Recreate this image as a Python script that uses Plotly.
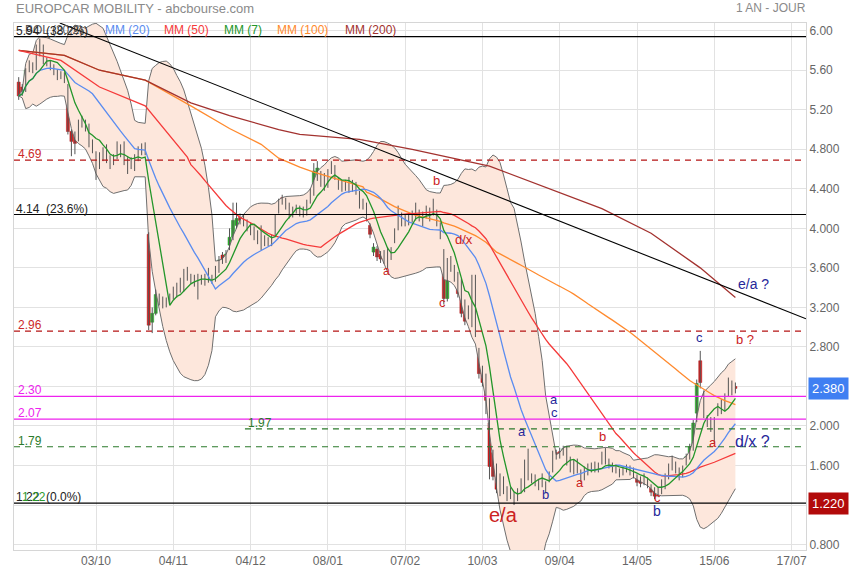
import plotly.graph_objects as go
import pandas as pd

title_text = "EUROPCAR MOBILITY - abcbourse.com"
period_text = "1 AN - JOUR"
date_labels = ["03/10", "04/11", "04/12", "08/01", "07/02", "10/03", "09/04", "14/05", "15/06", "17/07"]
date_pos = [22, 44, 66, 88, 110, 132, 154, 176, 198, 220]
y_ticks = [0.8, 1.2, 1.6, 2.0, 2.4, 2.8, 3.2, 3.6, 4.0, 4.4, 4.8, 5.2, 5.6, 6.0]
y_labels = ["0.800", "1.200", "1.600", "2.000", "2.400", "2.800", "3.200", "3.600", "4.000", "4.400", "4.800", "5.20", "5.60", "6.00"]

opens = [
    5.48, 5.43, 5.40, 5.60, 5.66, 5.61, 5.88, 5.84, 5.70, 5.68,
    5.64, 5.58, 5.54, 5.56, 5.44, 4.98, 4.96, 4.90, 5.05, 5.08,
    5.04, 4.88, 4.76, 4.64, 4.80, 4.70, 4.71, 4.68, 4.74, 4.82,
    4.86, 4.70, 4.68, 4.62, 4.70, 4.82, 4.77, 3.94, 3.05, 3.14,
    3.30, 3.28, 3.24, 3.26, 3.31, 3.33, 3.38, 3.39, 3.58, 3.51,
    3.50, 3.47, 3.50, 3.51, 3.56, 3.50, 3.48, 3.58, 3.73, 3.68,
    3.83, 3.91, 4.03, 4.11, 4.12, 4.06, 3.96, 3.99, 3.96, 4.01,
    3.86, 3.88, 3.91, 3.94, 4.18, 4.31, 4.28, 4.23, 4.14, 4.18,
    4.20, 4.19, 4.15, 4.28, 4.36, 4.51, 4.54, 4.53, 4.44, 4.64,
    4.61, 4.48, 4.45, 4.42, 4.49, 4.46, 4.38, 4.36, 4.22, 4.23,
    4.03, 3.76, 3.79, 3.74, 3.76, 3.79, 3.71, 3.88, 4.01, 4.13,
    4.11, 4.06, 4.09, 4.11, 4.16, 4.14, 4.13, 4.18, 4.16, 4.16,
    4.04, 3.77, 3.29, 3.68, 3.60, 3.54, 3.46, 3.26, 3.11, 3.18,
    2.93, 2.76, 2.58, 2.51, 2.03, 1.73, 1.59, 1.49, 1.46, 1.36,
    1.36, 1.31, 1.28, 1.36, 1.36, 1.74, 1.49, 1.48, 1.38, 1.46,
    1.41, 1.46, 1.56, 1.73, 1.74, 1.73, 1.78, 1.66, 1.63, 1.64,
    1.53, 1.48, 1.53, 1.60, 1.56, 1.56, 1.71, 1.75, 1.64, 1.60,
    1.58, 1.54, 1.53, 1.58, 1.58, 1.55, 1.48, 1.46, 1.46, 1.46,
    1.38, 1.36, 1.31, 1.34, 1.39, 1.49, 1.58, 1.61, 1.56, 1.52,
    1.63, 1.69, 1.78, 2.13, 2.66, 2.31, 2.08, 2.06, 1.93, 2.14,
    2.16, 2.18, 2.33, 2.41, 2.40,
]
closes = [
    5.34, 5.38, 5.60, 5.65, 5.61, 5.83, 5.78, 5.70, 5.68, 5.64,
    5.58, 5.53, 5.56, 5.50, 4.98, 4.88, 4.86, 5.06, 5.10, 5.03,
    4.86, 4.81, 4.64, 4.74, 4.73, 4.82, 4.66, 4.72, 4.86, 4.76,
    4.68, 4.60, 4.64, 4.72, 4.80, 4.78, 4.83, 3.02, 3.14, 3.33,
    3.26, 3.23, 3.26, 3.31, 3.38, 3.40, 3.46, 3.53, 3.51, 3.48,
    3.45, 3.50, 3.47, 3.46, 3.49, 3.48, 3.58, 3.68, 3.68, 3.74,
    3.91, 4.08, 4.10, 4.08, 4.06, 4.01, 4.03, 3.93, 3.90, 3.86,
    3.89, 3.86, 3.86, 4.11, 4.26, 4.28, 4.23, 4.14, 4.18, 4.20,
    4.15, 4.15, 4.26, 4.36, 4.58, 4.61, 4.46, 4.44, 4.56, 4.59,
    4.53, 4.43, 4.41, 4.46, 4.40, 4.41, 4.44, 4.24, 4.26, 4.11,
    3.94, 3.81, 3.71, 3.69, 3.69, 3.64, 3.78, 3.98, 4.13, 4.06,
    4.06, 4.10, 4.14, 4.21, 4.11, 4.06, 4.19, 4.11, 4.21, 4.06,
    3.93, 3.29, 3.66, 3.60, 3.50, 3.34, 3.14, 3.06, 3.18, 3.04,
    3.16, 2.53, 2.44, 2.26, 1.59, 1.49, 1.36, 1.33, 1.36, 1.28,
    1.30, 1.21, 1.34, 1.44, 1.63, 1.49, 1.46, 1.43, 1.43, 1.43,
    1.36, 1.51, 1.73, 1.69, 1.70, 1.77, 1.63, 1.56, 1.55, 1.56,
    1.46, 1.56, 1.58, 1.56, 1.60, 1.60, 1.64, 1.64, 1.60, 1.56,
    1.55, 1.51, 1.56, 1.56, 1.54, 1.51, 1.43, 1.42, 1.43, 1.41,
    1.33, 1.29, 1.35, 1.43, 1.49, 1.58, 1.66, 1.56, 1.49, 1.56,
    1.69, 1.79, 2.03, 2.43, 2.44, 2.24, 2.03, 1.99, 2.06, 2.19,
    2.24, 2.29, 2.46, 2.34, 2.38,
]
highs = [
    5.53, 5.46, 5.62, 5.70, 5.68, 5.86, 5.92, 5.86, 5.73, 5.70,
    5.66, 5.61, 5.59, 5.58, 5.46, 5.00, 4.98, 5.10, 5.14, 5.10,
    5.06, 4.90, 4.78, 4.77, 4.82, 4.85, 4.74, 4.75, 4.88, 4.85,
    4.88, 4.72, 4.72, 4.75, 4.83, 4.86, 4.87, 3.96, 3.20, 3.38,
    3.34, 3.31, 3.30, 3.34, 3.41, 3.45, 3.50, 3.59, 3.61, 3.54,
    3.53, 3.54, 3.53, 3.54, 3.60, 3.53, 3.62, 3.72, 3.76, 3.78,
    4.00, 4.26, 4.26, 4.15, 4.14, 4.09, 4.06, 4.02, 3.98, 4.03,
    3.93, 3.91, 3.94, 4.14, 4.30, 4.34, 4.31, 4.26, 4.22, 4.24,
    4.23, 4.22, 4.29, 4.40, 4.66, 4.68, 4.58, 4.56, 4.60, 4.68,
    4.64, 4.52, 4.48, 4.49, 4.52, 4.49, 4.47, 4.38, 4.30, 4.26,
    4.05, 3.85, 3.82, 3.77, 3.78, 3.81, 3.81, 4.00, 4.23, 4.16,
    4.14, 4.14, 4.18, 4.26, 4.19, 4.17, 4.23, 4.21, 4.30, 4.19,
    4.06, 3.79, 3.70, 3.72, 3.63, 3.56, 3.49, 3.28, 3.22, 3.53,
    3.53, 2.79, 2.61, 2.53, 2.28, 1.76, 1.62, 1.52, 1.49, 1.39,
    1.38, 1.33, 1.37, 1.47, 1.66, 1.77, 1.52, 1.51, 1.46, 1.52,
    1.44, 1.54, 1.75, 1.76, 1.78, 1.80, 1.80, 1.69, 1.66, 1.67,
    1.56, 1.59, 1.62, 1.63, 1.64, 1.63, 1.74, 1.78, 1.67, 1.63,
    1.61, 1.57, 1.59, 1.61, 1.60, 1.58, 1.51, 1.49, 1.52, 1.48,
    1.41, 1.38, 1.38, 1.46, 1.52, 1.62, 1.70, 1.64, 1.58, 1.60,
    1.72, 1.82, 2.06, 2.47, 2.76, 2.36, 2.11, 2.09, 2.09, 2.23,
    2.27, 2.33, 2.49, 2.46, 2.44,
]
lows = [
    5.30, 5.34, 5.38, 5.58, 5.57, 5.60, 5.74, 5.66, 5.64, 5.60,
    5.55, 5.50, 5.51, 5.47, 4.95, 4.73, 4.75, 4.88, 5.02, 4.98,
    4.82, 4.76, 4.49, 4.60, 4.68, 4.66, 4.60, 4.64, 4.70, 4.72,
    4.64, 4.55, 4.60, 4.58, 4.68, 4.74, 4.74, 2.97, 2.94, 3.12,
    3.22, 3.19, 3.20, 3.23, 3.28, 3.30, 3.35, 3.36, 3.47, 3.44,
    3.41, 3.28, 3.43, 3.42, 3.45, 3.44, 3.46, 3.55, 3.64, 3.65,
    3.78, 3.88, 4.00, 4.04, 4.02, 3.97, 3.93, 3.88, 3.84, 3.78,
    3.82, 3.82, 3.82, 3.92, 4.15, 4.24, 4.19, 4.10, 4.11, 4.15,
    4.12, 4.11, 4.13, 4.25, 4.33, 4.48, 4.42, 4.38, 4.41, 4.55,
    4.49, 4.39, 4.37, 4.38, 4.36, 4.37, 4.34, 4.20, 4.19, 4.07,
    3.90, 3.72, 3.67, 3.65, 3.64, 3.59, 3.68, 3.85, 3.98, 4.02,
    4.02, 4.03, 4.06, 4.08, 4.07, 4.02, 4.10, 4.07, 4.13, 4.02,
    3.89, 3.23, 3.26, 3.56, 3.46, 3.30, 3.10, 3.02, 3.08, 3.00,
    2.90, 2.48, 2.40, 2.12, 1.46, 1.45, 1.32, 1.29, 1.31, 1.24,
    1.26, 1.20, 1.24, 1.32, 1.33, 1.45, 1.42, 1.39, 1.35, 1.38,
    1.32, 1.43, 1.53, 1.66, 1.67, 1.70, 1.60, 1.53, 1.51, 1.52,
    1.43, 1.45, 1.50, 1.53, 1.53, 1.53, 1.61, 1.61, 1.57, 1.53,
    1.52, 1.48, 1.50, 1.53, 1.50, 1.47, 1.39, 1.38, 1.40, 1.37,
    1.29, 1.26, 1.28, 1.31, 1.36, 1.46, 1.55, 1.52, 1.45, 1.48,
    1.60, 1.66, 1.75, 2.04, 2.38, 2.08, 1.99, 1.94, 1.83, 2.10,
    2.12, 2.15, 2.30, 2.31, 2.33,
]

mm50_pre_idx = [0, 12, 23, 36, 48]
mm50_pre_val = [5.80, 5.70, 5.43, 5.24, 4.72]
mm100_pre_idx = [0, 13, 23, 36, 49, 60, 69, 74, 80, 84, 98]
mm100_pre_val = [5.80, 5.75, 5.60, 5.50, 5.24, 5.01, 4.85, 4.71, 4.62, 4.57, 4.42]
mm200_idx = [0, 13, 23, 36, 49, 60, 74, 80, 97, 112, 134, 146, 166, 180, 194, 204]
mm200_val = [5.80, 5.75, 5.60, 5.50, 5.27, 5.14, 5.00, 4.95, 4.90, 4.80, 4.63, 4.47, 4.20, 3.95, 3.60, 3.30]

trend_x = [11.7, 224.1]
trend_y = [6.078, 3.085]

last_price = 2.38
low_price = 1.22

n = min(len(opens), len(closes), len(highs), len(lows))
opens, closes, highs, lows = opens[:n], closes[:n], highs[:n], lows[:n]
idx = list(range(n))

s = pd.Series(closes)
mm7 = s.rolling(7, min_periods=1).mean()
mm20 = s.rolling(20, min_periods=1).mean()
sd20 = s.rolling(20, min_periods=1).std(ddof=0)
bb_up = mm20 + 2 * sd20
bb_dn = mm20 - 2 * sd20
mm50 = s.rolling(50).mean()
mm100 = s.rolling(100).mean()
mm50_x = mm50_pre_idx + idx[49:]
mm50_y = mm50_pre_val + list(mm50[49:])
mm100_x = mm100_pre_idx + idx[99:]
mm100_y = mm100_pre_val + list(mm100[99:])

FONT = "Liberation Sans, Arial, sans-serif"
C_MM20 = "#5a8cf0"
C_MM50 = "#f53a3a"
C_MM7 = "#23962a"
C_MM100 = "#ff8a2e"
C_MM200 = "#a3322f"
NAVY = "#26279a"
RED = "#cc2222"
MAG = "#ee22ee"

fig = go.Figure()

# Bollinger band
fig.add_trace(go.Scatter(x=idx, y=list(bb_up), mode="lines",
                         line=dict(color="#6f6f6f", width=1), hoverinfo="skip"))
fig.add_trace(go.Scatter(x=idx, y=list(bb_dn), mode="lines",
                         line=dict(color="#6f6f6f", width=1), fill="tonexty",
                         fillcolor="#fde7dc", hoverinfo="skip"))

# candle wicks
wx, wy = [], []
for i in idx:
    wx += [i, i, None]
    wy += [lows[i], highs[i], None]
fig.add_trace(go.Scatter(x=wx, y=wy, mode="lines", line=dict(color="#555555", width=1),
                         hoverinfo="skip"))

# candle bodies
base = [min(o, c) for o, c in zip(opens, closes)]
height = [max(abs(c - o), 0.008) for o, c in zip(opens, closes)]
fillc = ["#2fb82f" if c >= o else "#d91c1c" for o, c in zip(opens, closes)]
linec = ["#1f8a1f" if c >= o else "#a81515" for o, c in zip(opens, closes)]
fig.add_trace(go.Bar(x=idx, y=height, base=base, width=0.85,
                     marker=dict(color=fillc, line=dict(color=linec, width=0.5)),
                     hoverinfo="skip"))

# moving averages
fig.add_trace(go.Scatter(x=mm100_x, y=mm100_y, mode="lines", line=dict(color=C_MM100, width=1.3)))
fig.add_trace(go.Scatter(x=mm200_idx, y=mm200_val, mode="lines", line=dict(color=C_MM200, width=1.3)))
fig.add_trace(go.Scatter(x=mm50_x, y=mm50_y, mode="lines", line=dict(color=C_MM50, width=1.3)))
fig.add_trace(go.Scatter(x=idx, y=list(mm20), mode="lines", line=dict(color=C_MM20, width=1.3)))
fig.add_trace(go.Scatter(x=idx, y=list(mm7), mode="lines", line=dict(color=C_MM7, width=1.3)))

# horizontal levels
levels = [
    (5.94, "black", "solid", 0), (4.69, "#b51515", "6px,5px", 0), (4.14, "black", "solid", 0),
    (2.96, "#b51515", "6px,5px", 0), (2.30, MAG, "solid", 0), (2.07, MAG, "solid", 0),
    (1.97, "#2b7a2b", "6px,5px", 64.4), (1.79, "#2b7a2b", "6px,5px", 0), (1.22, "black", "solid", 0),
]
shapes = []
for val, col, dash, start in levels:
    if start:
        shapes.append(dict(type="line", xref="x", yref="y", x0=start, x1=224.1, y0=val, y1=val,
                           line=dict(color=col, width=1.2, dash=dash), layer="above"))
    else:
        shapes.append(dict(type="line", xref="x domain", yref="y", x0=0, x1=1, y0=val, y1=val,
                           line=dict(color=col, width=1.2, dash=dash), layer="above"))
shapes.append(dict(type="line", xref="x", yref="y", x0=trend_x[0], x1=trend_x[1],
                   y0=trend_y[0], y1=trend_y[1], line=dict(color="black", width=1.1), layer="above"))

ann = []
def txt(x, y, t, color, size=12, xref="x", yref="y", xanchor="center", yanchor="middle", yshift=0):
    ann.append(dict(x=x, y=y, xref=xref, yref=yref, text=t, showarrow=False,
                    font=dict(color=color, size=size, family=FONT),
                    xanchor=xanchor, yanchor=yanchor, yshift=yshift))

# header
txt(0, 1.028, title_text, "#8a8a8a", 13, "paper", "paper", "left")
txt(1.003, 1.028, period_text, "#8a8a8a", 12, "paper", "paper", "right")

# legend row
leg_y = 0.987
txt(0.011, leg_y, "BOL (20,2)", "#555555", 12, "paper", "paper", "left")
txt(0.112, leg_y, "MM (20)", C_MM20, 12, "paper", "paper", "left")
txt(0.187, leg_y, "MM (50)", C_MM50, 12, "paper", "paper", "left")
txt(0.263, leg_y, "MM (7)", C_MM7, 12, "paper", "paper", "left")
txt(0.330, leg_y, "MM (100)", C_MM100, 12, "paper", "paper", "left")
txt(0.416, leg_y, "MM (200)", C_MM200, 12, "paper", "paper", "left")

# level labels
txt(0.0, 5.94, "5.94  (38.2%)", "#222222", 12, "paper", "y", "left", "bottom", -3)
txt(0.003, 4.69, "4.69", "#cc2a2a", 12, "paper", "y", "left", "bottom", -3)
txt(0.0, 4.14, "4.14  (23.6%)", "#222222", 12, "paper", "y", "left", "bottom", -3)
txt(0.003, 2.96, "2.96", "#cc2a2a", 12, "paper", "y", "left", "bottom", -3)
txt(0.003, 2.30, "2.30", MAG, 12, "paper", "y", "left", "bottom", -3)
txt(0.003, 2.07, "2.07", MAG, 12, "paper", "y", "left", "bottom", -3)
txt(0.003, 1.79, "1.79", "#2b7a2b", 12, "paper", "y", "left", "bottom", -3)
txt(64.6, 1.97, "1.97", "#2b7a2b", 12, "x", "y", "left", "bottom", -3)
txt(0.0, 1.22, "1.22  (0.0%)", "#222222", 12, "paper", "y", "left", "bottom", -3)
txt(0.008, 1.22, "1.22", "#2b9a2b", 12, "paper", "y", "left", "bottom", -3)

# wave labels
waves = [
    (209.2, 3.435, "e/a ?", NAVY, 14), (206.8, 2.875, "b ?", RED, 13),
    (193.7, 2.895, "c", NAVY, 13), (152.4, 2.265, "a", NAVY, 13), (152.4, 2.135, "c", NAVY, 13),
    (143.3, 1.945, "a", NAVY, 13), (149.9, 1.305, "b", NAVY, 13),
    (137.9, 1.095, "e/a", RED, 20), (159.8, 1.425, "a", RED, 13),
    (166.1, 1.895, "b", RED, 13), (181.8, 1.275, "c", RED, 13), (181.8, 1.135, "b", NAVY, 14),
    (197.7, 1.835, "a", RED, 13), (208.8, 1.845, "d/x ?", NAVY, 16),
    (104.8, 3.565, "a", RED, 12), (118.8, 4.485, "b", RED, 13),
    (126.8, 3.885, "d/x", RED, 13), (120.5, 3.245, "c", RED, 13),
]
for x, y, t, col, sz in waves:
    txt(x, y, t, col, sz)

# price tags
ann.append(dict(x=1, y=last_price, xref="paper", yref="y", text=f"{last_price:.3f}", showarrow=False,
                xanchor="left", yanchor="middle", xshift=2, bgcolor="#3f7ff2", borderpad=3,
                font=dict(color="white", size=13, family=FONT)))
ann.append(dict(x=1, y=low_price, xref="paper", yref="y", text=f"{low_price:.3f}", showarrow=False,
                xanchor="left", yanchor="middle", xshift=2, bgcolor="#b20a0a", borderpad=3,
                font=dict(color="white", size=13, family=FONT)))

fig.update_layout(
    width=855, height=580,
    margin=dict(l=14, r=49, t=23, b=24),
    paper_bgcolor="white", plot_bgcolor="white",
    showlegend=False, barmode="overlay",
    font=dict(family=FONT, color="#666666", size=12),
    shapes=shapes, annotations=ann,
    xaxis=dict(range=[-1.34, 224.1], tickmode="array", tickvals=date_pos, ticktext=date_labels,
               showgrid=True, gridcolor="#e2e2e2", zeroline=False, showline=True,
               linecolor="#d6d6d6", mirror=True, ticks="",
               tickfont=dict(color="#666666", size=12, family=FONT)),
    yaxis=dict(range=[0.745, 6.078], side="right", tickmode="array", tickvals=y_ticks,
               ticktext=y_labels, showgrid=True, gridcolor="#e2e2e2", zeroline=False,
               showline=True, linecolor="#d6d6d6", mirror=True, ticks="",
               tickfont=dict(color="#666666", size=12, family=FONT)),
)

fig.write_html("out.html", config={"displayModeBar": False},
               post_script="document.body.style.margin='0px';")
